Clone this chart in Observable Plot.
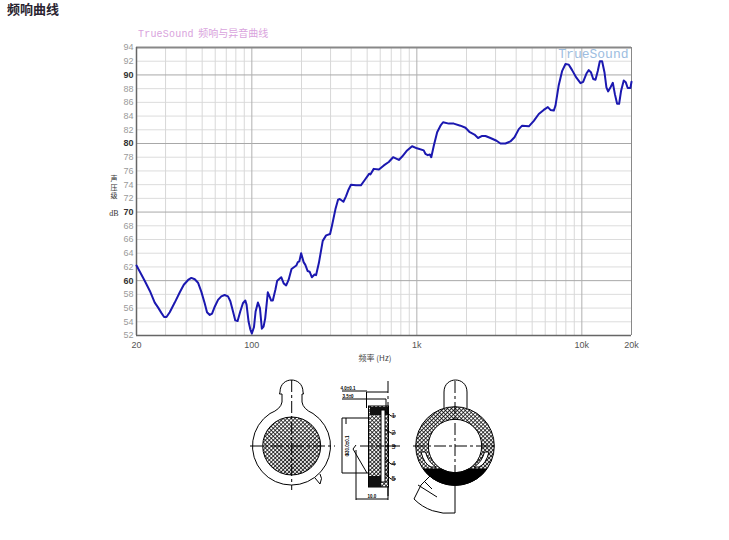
<!DOCTYPE html>
<html>
<head>
<meta charset="utf-8">
<script src="https://cdn.jsdelivr.net/npm/d3@7"></script>
<script src="https://cdn.jsdelivr.net/npm/@observablehq/plot@0.6"></script>
<style>
html,body{margin:0;padding:0;background:#fff;}
#page{position:relative;width:729px;height:540px;overflow:hidden;}
.t{position:absolute;white-space:nowrap;line-height:1;}
#chart svg,#diagram svg{display:block;}
#chart{position:absolute;left:0;top:0;}
#diagram{position:absolute;left:0;top:370px;}
</style>
</head>
<body>
<div id="page">
  <div id="chart"></div>
  <div class="t" style="left:7px;top:-1px;font:bold 13px 'Noto Sans CJK SC';color:#2a2430;">频响曲线</div>
  <div class="t" style="left:138px;top:25px;font:10px 'Noto Sans CJK SC';color:#d9a3dd;"><span style="font-family:'Liberation Mono';letter-spacing:.2px;">TrueSound</span>&nbsp;&nbsp;频响与异音曲线</div>
  <div class="t" style="left:108px;top:174px;width:12px;font:7px 'Noto Sans CJK SC';color:#333;text-align:center;"><div style="height:8.5px;line-height:8px;">声</div><div style="height:8.5px;line-height:8px;">压</div><div style="height:8.5px;line-height:8px;">级</div></div>
  <div class="t" style="left:106px;top:209px;width:16px;font:8px 'Liberation Serif';color:#333;text-align:center;">dB</div>
  <div class="t" style="left:340px;top:352px;width:70px;font:8px 'Noto Sans CJK SC';color:#444;text-align:center;">频率 (Hz)</div>
  <div id="diagram">
<svg width="729" height="170" viewBox="0 370 729 170" xmlns="http://www.w3.org/2000/svg">
  <defs>
    <pattern id="hatch" width="2.8" height="2.8" patternUnits="userSpaceOnUse" patternTransform="rotate(45)">
      <rect width="2.8" height="2.8" fill="#fff"/>
      <path d="M0 0H2.8M0 0V2.8" stroke="#000" stroke-width="1.5"/>
    </pattern>
  </defs>
  <!-- left view -->
  <g fill="none" stroke="#000" stroke-width="1">
    <path d="M279.5 394 L280 392 C280 376 303 376 303 392 L303.5 394 M279.5 394 H282 V402 Q281 409 270 413.5 M303.5 394 H302 V402 Q303 409 313 413.5"/>
    <path d="M270 413.5 A39 39 0 1 0 313 413.5"/>
    <circle cx="291.7" cy="446" r="29" fill="url(#hatch)"/>
    <path d="M315 478 L320 484 Q323 478 320 474"/>
    <path d="M250 446 H335 M291.7 380 V490" stroke-dasharray="12 3 3 3"/>
  </g>
  <!-- side view -->
  <g fill="none" stroke="#000" stroke-width="1">
    <rect x="368.5" y="406" width="20" height="81" fill="url(#hatch)"/>
    <rect x="370" y="407" width="18" height="8" fill="#111" stroke="none"/>
    <rect x="369" y="476" width="12" height="11" fill="#111" stroke="none"/>
    <rect x="381" y="410" width="4" height="72" fill="#fff"/>
    <path d="M388 381 V496" stroke-dasharray="12 3 3 3" />
    <path d="M366.5 392 H388 M366.5 392 V408 M342 418 H369 M342 473 H369 M342 418 V473"/>
    <path d="M346 418 V424 M356 445 L353 449 L367 473"/>
    <path d="M356 450 V500 M388 487 V500 M356 499 H388"/>
    <path d="M342 391 H367 M342 399 H386 V406"/>
    <path d="M385 411 L391 416 H396 M385 429 L391 433 H396 M385 446 H396 M385 459 L391 464 H396 M385 474 L391 479 H396"/>
    <path d="M360 446 H400" stroke-dasharray="8 3 2 3"/>
  </g>
  <g font-family="Liberation Sans" font-size="7" fill="#000" text-anchor="middle">
    <text x="393.5" y="418">1</text>
    <text x="393.5" y="434.5">2</text>
    <text x="393.5" y="449">3</text>
    <text x="393.5" y="465.5">4</text>
    <text x="393.5" y="480.5">5</text>
  </g>
  <g font-family="Liberation Sans" font-size="4.5" font-weight="bold" fill="#000" text-anchor="middle">
    <text x="348" y="390">4.0±0.1</text>
    <text x="348" y="398">3.5±0</text>
    <text x="372" y="497.5">10.0</text>
    <text x="0" y="0" transform="translate(349,446) rotate(-90)">Φ30.0±0.1</text>
  </g>
  <!-- right view -->
  <g fill="none" stroke="#000" stroke-width="1">
    <path d="M444 408 V392 C444 376 467 376 467 392 V408"/>
    <path fill-rule="evenodd" fill="url(#hatch)" d="M415.7 446 a39.3 39.3 0 1 0 78.6 0 a39.3 39.3 0 1 0 -78.6 0 Z M428.3 446 a26.7 26.7 0 1 0 53.4 0 a26.7 26.7 0 1 0 -53.4 0 Z"/>
    <path d="M423.1 469 A39.3 39.3 0 0 0 486.9 469 L468.6 469 A26.7 26.7 0 0 1 441.4 469 Z" fill="#000" stroke="#000"/>
    <path d="M421 452 Q424 464 431 467 L436 467 Q428 462 425.5 452 Z M489 452 Q486 464 479 467 L474 467 Q482 462 484.5 452 Z" fill="#fff"/>
    <path d="M413 446 H497 M455 381 V487" stroke-dasharray="12 3 3 3"/>
    <path d="M455 487 V513 H454 A48 48 0 0 1 414 499 L421 485 M421 485 L430 476 M418 485 L437 497 M424 481 L432 489"/>
  </g>
</svg>
  </div>
</div>
<script>
const freqs = [20,21.4,22.5,24.1,25.8,27,28.3,29.4,30.4,31.8,34.1,36.6,38.7,41.1,43,45.1,47.2,49.4,51.8,53.5,55.6,57.4,59.6,62.4,65.3,68.4,71.7,74.1,76.9,79.4,82,85.1,88.3,91.3,92.9,95.6,97.9,100,103,105.4,108.9,112,115,117.8,120.5,125,128,131,134,139,142.5,150.7,156,161.5,167,174,186,190,194,199,206,211,218,224,231,240,245,255,269,282,298,306,321,333,341,359,372,386,399,428,458,481,515,524,548,589,631,676,718,778,815,866,936,1002,1101,1127,1165,1199,1223,1268,1328,1391,1442,1563,1675,1837,1972,2094,2235,2350,2489,2606,2793,3041,3214,3444,3690,3908,4150,4346,4775,5117,5483,5875,6223,6456,6761,6919,7245,7603,7962,8337,8730,9268,9817,10186,10666,11016,11350,11723,12100,12503,12855,13274,13713,14094,14427,14927,15416,15860,16363,16830,17300,17950,18450,18970,19700,20000];
const levels = [62.2,60.9,59.9,58.5,56.8,56.1,55.3,54.7,54.7,55.4,56.8,58.3,59.4,60.1,60.4,60.2,59.7,58.4,56.7,55.4,55,55.2,56.2,57.2,57.7,57.9,57.7,57,55.5,54.2,54.1,55.5,56.7,57.1,56.5,54,52.9,52.3,53.2,55.5,56.8,56,53,53.3,54.5,58.3,57.7,57.1,57.1,58.7,60,60.5,59.6,59.3,60.1,61.7,62.2,62.7,62.8,64,62.7,62.3,61.4,61.3,60.5,60.9,60.8,62.6,65.8,66.6,66.8,68,70.4,71.8,71.9,71.5,72.3,73.3,74,73.9,73.9,74.6,75.6,75.5,76.3,76.2,76.8,77.3,78,77.6,78.1,78.9,79.6,79.3,79,78.5,78.3,78.4,78,79.7,81.65,82.6,83.1,82.9,82.9,82.6,82.3,81.65,81.3,80.8,81.1,81.1,80.8,80.4,80,80,80.3,80.9,82.1,82.6,82.5,83.3,84.3,84.9,85.3,84.9,84.8,85.5,88.5,90.6,91.6,91.5,90.7,89.6,88.8,89,90.2,90.7,90.4,89.4,89.3,90.6,92,92,90.4,88.2,87.6,88.2,88.85,87.2,85.8,85.8,87.7,89.2,88.95,88.1,88.1,89];
const curve = freqs.map((f, i) => ({f, db: levels[i]}));

const yMajor = [60, 70, 80, 90];
const yMinor = [52,54,56,58,62,64,66,68,72,74,76,78,82,84,86,88,92,94];
const xMajor = [100, 1000, 10000];
const xMinor = [30,40,50,60,70,80,90,200,300,400,500,600,700,800,900,2000,3000,4000,5000,6000,7000,8000,9000];
const xLabels = [20, 100, 1000, 10000, 20000];

const plot = Plot.plot({
  width: 729, height: 370,
  marginLeft: 136, marginRight: 98, marginTop: 47, marginBottom: 35,
  style: {background: "#fff", fontFamily: "'Liberation Sans'", fontSize: "9px"},
  x: {type: "log", domain: [20, 20000], label: null},
  y: {domain: [52, 94], label: null},
  marks: [
    Plot.ruleY(yMinor, {stroke: "#dcdcdc", strokeWidth: 1}),
    Plot.ruleX(xMinor, {stroke: "#d8d8d8", strokeWidth: 1}),
    Plot.ruleY(yMajor, {stroke: "#a8a8a8", strokeWidth: 1}),
    Plot.ruleX(xMajor, {stroke: "#b0b0b0", strokeWidth: 1}),
    Plot.ruleX([20000], {stroke: "#888", strokeWidth: 1}),
    Plot.ruleY([94], {stroke: "#888", strokeWidth: 2}),
    Plot.ruleX([20], {stroke: "#666", strokeWidth: 1.5}),
    Plot.ruleY([52], {stroke: "#666", strokeWidth: 1.5}),
    Plot.axisY(yMinor, {tickSize: 0, tickPadding: 3, color: "#9a9a9a", label: null}),
    Plot.axisY(yMajor, {tickSize: 0, tickPadding: 3, color: "#333", fontWeight: "bold", label: null}),
    Plot.axisX(xLabels, {tickSize: 0, tickPadding: 6, color: "#555", label: null,
      tickFormat: d => d >= 1000 ? d / 1000 + "k" : String(d)}),
    Plot.text(["TrueSound"], {frameAnchor: "top-right", dx: -3, dy: 1, fill: "#9dbde0",
      fontFamily: "'Liberation Mono'", fontSize: 13}),
    Plot.line(curve, {x: "f", y: "db", stroke: "#1b18b0", strokeWidth: 2, strokeLinejoin: "round"})
  ]
});
document.getElementById("chart").appendChild(plot);
</script>
</body>
</html>
